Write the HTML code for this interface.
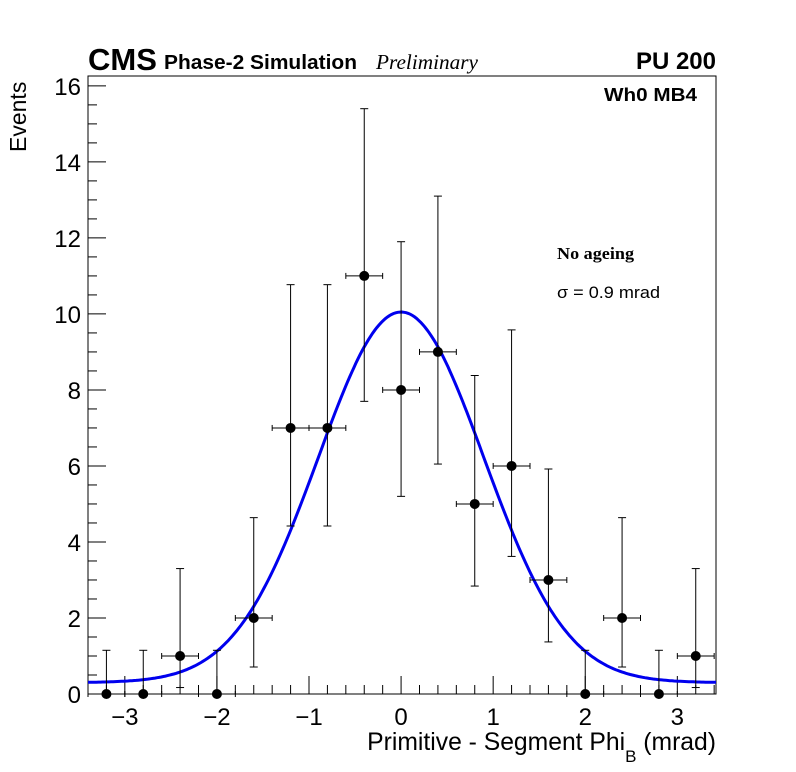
<!DOCTYPE html>
<html><head><meta charset="utf-8"><style>
body{margin:0;background:#fff}
svg{display:block}
text{font-family:"Liberation Sans",sans-serif}
</style></head><body>
<svg id="c" width="796" height="772">
<text x="88" y="70" font-size="31" font-weight="bold">CMS</text>
<text x="164" y="69" font-size="20" font-weight="bold" textLength="193" lengthAdjust="spacingAndGlyphs">Phase-2 Simulation</text>
<text x="376" y="69" font-size="21" font-style="italic" textLength="102" lengthAdjust="spacingAndGlyphs" style="font-family:'Liberation Serif',serif">Preliminary</text>
<text x="716" y="69" font-size="24" font-weight="bold" text-anchor="end">PU 200</text>
<text x="697" y="101" font-size="18" font-weight="bold" text-anchor="end" textLength="93" lengthAdjust="spacingAndGlyphs">Wh0 MB4</text>
<text x="557" y="259" font-size="17" font-weight="bold" textLength="77" lengthAdjust="spacingAndGlyphs" style="font-family:'Liberation Serif',serif">No ageing</text>
<text x="557" y="298" font-size="17" textLength="103" lengthAdjust="spacingAndGlyphs">σ = 0.9 mrad</text>
<text transform="translate(26,152) rotate(-90)" font-size="23">Events</text>
<text x="716" y="750" font-size="24.7" text-anchor="end">Primitive - Segment Phi<tspan font-size="17" dy="12">B</tspan><tspan dy="-12"> (mrad)</tspan></text>
<g id="g"></g>
</svg>
<script>
const xs=[-3.2,-2.8,-2.4,-2.0,-1.6,-1.2,-0.8,-0.4,0,0.4,0.8,1.2,1.6,2.0,2.4,2.8,3.2];
const ys=[0,0,1,0,2,7,7,11,8,9,5,6,3,0,2,0,1];
const errLo=[0,0,0.83,0,1.29,2.58,2.58,3.3,2.8,2.95,2.16,2.38,1.63,0,1.29,0,0.83];
const errHi=[1.15,1.15,2.3,1.15,2.64,3.77,3.77,4.4,3.9,4.1,3.38,3.58,2.92,1.15,2.64,1.15,2.3];
const fitAmp=[9.75], fitMean=[0], fitSigma=[0.9], fitConst=[0.3];
const xTicks=[-3,-2,-1,0,1,2,3];
const yTicks=[0,2,4,6,8,10,12,14,16];
const L=88,R=716,T=76,B=694,x0=-3.4,x1=3.42,y0=0,y1=16.26;
const X=v=>L+(v-x0)/(x1-x0)*(R-L), Y=v=>B-(v-y0)/(y1-y0)*(B-T);
const g=document.getElementById('g');const NS='http://www.w3.org/2000/svg';
function mk(t,a,p){const e=document.createElementNS(NS,t);for(const k in a)e.setAttribute(k,a[k]);(p||g).appendChild(e);return e;}
const fr=mk('rect',{x:L,y:T,width:R-L,height:B-T,fill:'none',stroke:'#000','stroke-width':1});

for(let i=-17;i<=17;i++){const v=i*0.2;if(v<x0||v>x1)continue;const maj=Math.abs(v-Math.round(v))<1e-6;
 const t=mk('line',{x1:X(v),x2:X(v),y1:B,y2:B-(maj?18:9),stroke:'#000'});}
xTicks.forEach(v=>{const t=mk('text',{x:X(v),y:725,'font-size':24,'text-anchor':'middle'});t.textContent=(v<0?'\u2212':'')+Math.abs(v);});
for(let v=0;v<=16.01;v+=0.5){const maj=Math.abs(v/2-Math.round(v/2))<1e-6;
 const t=mk('line',{x1:L,x2:L+(maj?18:9),y1:Y(v),y2:Y(v),stroke:'#000'});}
yTicks.forEach(v=>{const t=mk('text',{x:81,y:Y(v)+9,'font-size':24,'text-anchor':'end'});t.textContent=v;});
let d='';for(let i=0;i<=300;i++){const v=x0+(x1-x0)*i/300;const f=fitConst[0]+fitAmp[0]*Math.exp(-0.5*Math.pow((v-fitMean[0])/fitSigma[0],2));d+=(i?'L':'M')+X(v).toFixed(1)+','+Y(f).toFixed(1);}
const fit=mk('path',{d:d,fill:'none',stroke:'#0000ee','stroke-width':3});
xs.forEach((v,i)=>{const px=X(v),py=Y(ys[i]);const gg=mk('g',{});
 const yh=Y(ys[i]+errHi[i]),yl=Y(ys[i]-errLo[i]);
 mk('line',{x1:px,x2:px,y1:yh,y2:yl,stroke:'#000'},gg);
 mk('line',{x1:px-4,x2:px+4,y1:yh,y2:yh,stroke:'#000'},gg);
 if(errLo[i]>0)mk('line',{x1:px-4,x2:px+4,y1:yl,y2:yl,stroke:'#000'},gg);
 const xl=X(v-0.2),xr=X(v+0.2);
 mk('line',{x1:xl,x2:xr,y1:py,y2:py,stroke:'#000'},gg);
 mk('line',{x1:xl,x2:xl,y1:py-3,y2:py+3,stroke:'#000'},gg);
 mk('line',{x1:xr,x2:xr,y1:py-3,y2:py+3,stroke:'#000'},gg);
 mk('circle',{cx:px,cy:py,r:5,fill:'#000'},gg);});
</script>
</body></html>
